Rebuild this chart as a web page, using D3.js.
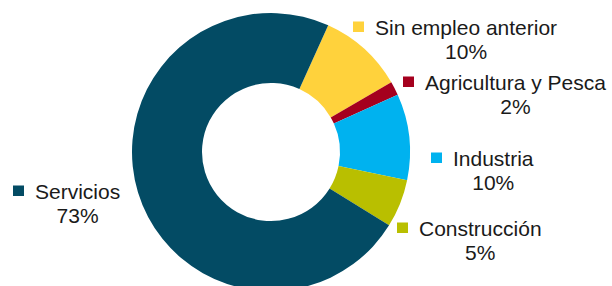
<!DOCTYPE html>
<html><head><meta charset="utf-8">
<script src="https://cdn.jsdelivr.net/npm/d3@7"></script>
<style>html,body{margin:0;padding:0;background:#fff;}svg{display:block;}</style>
</head><body>
<svg id="chart" width="612" height="286"></svg>
<script>
// Data
const categories = ["Sin empleo anterior", "Agricultura y Pesca", "Industria", "Construcción", "Servicios"];
const values = [9.9, 1.6, 10.0, 5.6, 72.9];
const pctLabels = ["10%", "2%", "10%", "5%", "73%"];

// Styles / layout
const colors = ["#FFD23C", "#A5001E", "#00B2EF", "#B9BF00", "#034B64"];
const labelPos = [[375, 35], [425, 90], [453, 166], [419, 236], [35, 199]];

const W = 612, H = 286;
const cx = 271, cy = 152, outerR = 139, innerR = 69;
const startDeg = 24.3;

const svg = d3.select("#chart");
const g = svg.append("g").attr("transform", `translate(${cx},${cy})`);

const pie = d3.pie().sort(null).value(d => d)
  .startAngle(startDeg * Math.PI / 180)
  .endAngle(startDeg * Math.PI / 180 + 2 * Math.PI);
const arc = d3.arc().innerRadius(innerR).outerRadius(outerR);

g.selectAll("path").data(pie(values)).join("path")
  .attr("d", arc)
  .attr("fill", (d, i) => colors[i]);

const font = "'Liberation Sans', Arial, sans-serif";
const fs = 21;
categories.forEach((c, i) => {
  const [x, y] = labelPos[i];
  const t = svg.append("text").attr("x", x).attr("y", y)
    .attr("font-family", font).attr("font-size", fs).attr("fill", "#1a1a1a")
    .text(c);
  const w = t.node().getComputedTextLength();
  svg.append("rect").attr("x", x - 22).attr("y", y - 13.5).attr("width", 11).attr("height", 10.5)
    .attr("fill", colors[i]);
  svg.append("text").attr("x", x + w / 2).attr("y", y + 24)
    .attr("text-anchor", "middle")
    .attr("font-family", font).attr("font-size", fs).attr("fill", "#1a1a1a")
    .text(pctLabels[i]);
});
</script>
</body></html>
